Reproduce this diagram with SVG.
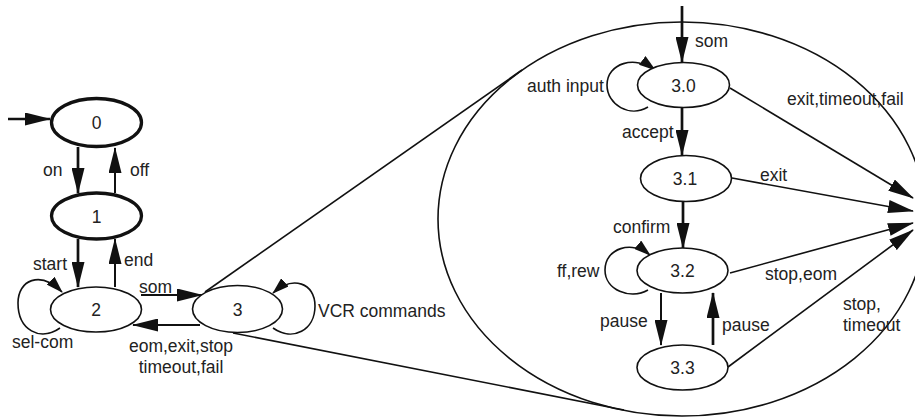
<svg xmlns="http://www.w3.org/2000/svg" width="915" height="417" viewBox="0 0 915 417">
<style>
text{font-family:"Liberation Sans",Arial,sans-serif;font-size:17.5px;fill:#222}
.c{text-anchor:middle}
.n{fill:#fff;stroke:#111;stroke-width:1.6}
.nb{fill:#fff;stroke:#111;stroke-width:3.3}
.l{fill:none;stroke:#111;stroke-width:1.6}
.t{fill:none;stroke:#111;stroke-width:2.7}
.m{fill:none;stroke:#111;stroke-width:2}
</style>
<defs>
<marker id="ah" viewBox="0 0 26 13" refX="25" refY="6.5" markerWidth="26" markerHeight="13" markerUnits="userSpaceOnUse" orient="auto"><path d="M0,0 L26,6.5 L0,13 z" fill="#111"/></marker>
<marker id="as" viewBox="0 0 17 11" refX="16" refY="5.5" markerWidth="17" markerHeight="11" markerUnits="userSpaceOnUse" orient="auto"><path d="M0,0 L17,5.5 L0,11 z" fill="#111"/></marker>
</defs>
<g id="connectors">
<ellipse cx="682" cy="219" rx="244" ry="197" class="l"/>
<path class="l" d="M205,292 L522,70"/>
<path class="l" d="M233,333 L624,410"/>
<path class="t" d="M8,119 L50,119" marker-end="url(#ah)"/>
<path class="t" d="M78,147 L78,193" marker-end="url(#ah)"/>
<path class="m" d="M115,193 L115,148" marker-end="url(#ah)"/>
<path class="t" d="M78,239 L78,287" marker-end="url(#ah)"/>
<path class="m" d="M115,287 L115,239" marker-end="url(#ah)"/>
<path class="m" d="M141,295 L202,295" marker-end="url(#ah)"/>
<path class="m" d="M200,325 L133,325" marker-end="url(#ah)"/>
<path class="l" d="M60,328 C40,342 18,330 18,303 C18,280 40,270 62,292" marker-end="url(#as)"/>
<path class="l" d="M273,328 C293,342 315,330 315,306 C315,283 293,275 273,293" marker-end="url(#as)"/>
<path class="t" d="M682,6 L682,62" marker-end="url(#ah)"/>
<path class="l" d="M648,107 C630,118 607,105 607,85 C607,63 635,55 655,70" marker-end="url(#as)"/>
<path class="t" d="M682,108 L682,155" marker-end="url(#ah)"/>
<path class="t" d="M683,202 L683,248" marker-end="url(#ah)"/>
<path class="l" d="M648,290 C630,300 605,290 605,270 C605,248 632,240 650,255" marker-end="url(#as)"/>
<path class="m" d="M661,293 L661,345" marker-end="url(#ah)"/>
<path class="t" d="M713,345 L713,293" marker-end="url(#ah)"/>
<path class="l" d="M730,88 L913,198" marker-end="url(#ah)"/>
<path class="l" d="M732,178 L913,211" marker-end="url(#ah)"/>
<path class="l" d="M730,273 L913,223" marker-end="url(#ah)"/>
<path class="l" d="M728,367 L913,230" marker-end="url(#ah)"/>
</g>
<g id="labels">
<text x="43" y="176">on</text>
<text x="130" y="176">off</text>
<text x="33" y="270">start</text>
<text x="124" y="266">end</text>
<text x="12" y="348">sel-com</text>
<text x="139" y="293">som</text>
<text class="c" x="181" y="352">eom,exit,stop</text>
<text class="c" x="181" y="373">timeout,fail</text>
<text x="318" y="317">VCR commands</text>
<text x="695" y="47">som</text>
<text x="527" y="92">auth input</text>
<text x="622" y="138">accept</text>
<text x="787" y="105">exit,timeout,fail</text>
<text x="760" y="181">exit</text>
<text x="613" y="233">confirm</text>
<text x="557" y="277">ff,rew</text>
<text x="765" y="280">stop,eom</text>
<text x="600" y="327">pause</text>
<text x="722" y="331">pause</text>
<text x="843" y="310">stop,</text>
<text x="843" y="331">timeout</text>
</g>
<g id="node-0"><ellipse class="nb" cx="96.5" cy="122.5" rx="45" ry="24"/><text class="c" x="96.5" y="129">0</text></g>
<g id="node-1"><ellipse class="nb" cx="96.5" cy="216" rx="45" ry="23"/><text class="c" x="96.5" y="222.5">1</text></g>
<g id="node-2"><ellipse class="n" cx="96" cy="309.5" rx="45.5" ry="22.5"/><text class="c" x="96" y="316">2</text></g>
<g id="node-3"><ellipse class="n" cx="237.5" cy="309" rx="45" ry="23.5"/><text class="c" x="237.5" y="315.5">3</text></g>
<g id="node-3-0"><ellipse class="n" cx="683.5" cy="85" rx="46" ry="22.5"/><text class="c" x="683.5" y="91.5">3.0</text></g>
<g id="node-3-1"><ellipse class="n" cx="686" cy="178.5" rx="45.5" ry="23"/><text class="c" x="685" y="185">3.1</text></g>
<g id="node-3-2"><ellipse class="n" cx="682.5" cy="270.5" rx="45.5" ry="22.5"/><text class="c" x="682.5" y="277">3.2</text></g>
<g id="node-3-3"><ellipse class="n" cx="682.5" cy="367.5" rx="45.5" ry="22.5"/><text class="c" x="682.5" y="374">3.3</text></g>
</svg>
